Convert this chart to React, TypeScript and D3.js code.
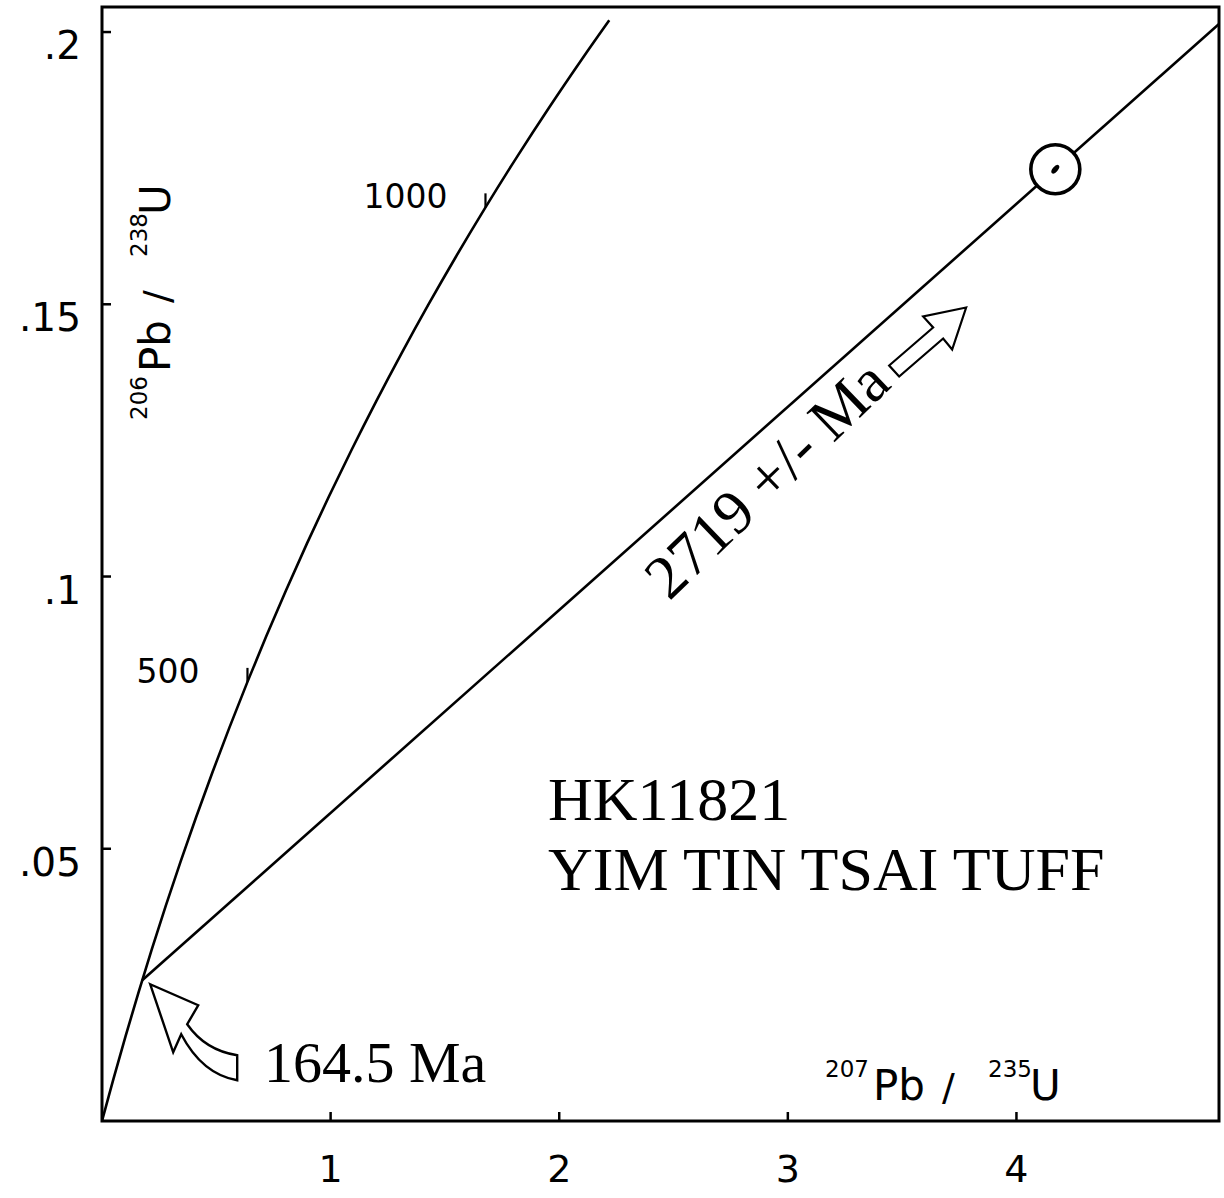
import React from 'react';
import * as d3 from 'd3';

// U-Pb decay constants (per year)
const LAMBDA_238 = 1.55125e-10;
const LAMBDA_235 = 9.8485e-10;

const xTickValues = [1, 2, 3, 4];
const xTickLabels = ['1', '2', '3', '4'];
const yTickValues = [0.05, 0.1, 0.15, 0.2];
const yTickLabels = ['.05', '.1', '.15', '.2'];

// Ages (Ma) along the concordia curve that is drawn
const concordiaAges = [0, 50, 100, 150, 200, 250, 300, 350, 400, 450, 500, 550, 600, 650, 700, 750, 800, 850, 900, 950, 1000, 1050, 1100, 1150, 1187];
const concordiaTickAges = [500, 1000];
const concordiaTickLabels = ['500', '1000'];

const lowerInterceptAge = 164.5;
const upperInterceptAge = 2719;

// analysed zircon fraction (207Pb/235U, 206Pb/238U)
const analysisX = [4.17];
const analysisY = [0.1748];

const sampleLines = ['HK11821', 'YIM TIN TSAI TUFF'];
const lowerLabel = '164.5 Ma';
const upperLabel = '2719 +/- Ma';

const r206 = (tMa: number) => Math.exp(LAMBDA_238 * tMa * 1e6) - 1;
const r207 = (tMa: number) => Math.exp(LAMBDA_235 * tMa * 1e6) - 1;

const SANS = '"DejaVu Sans", sans-serif';
const SERIF = '"Liberation Serif", "Times New Roman", serif';

export default function App() {
  const x = d3.scaleLinear().domain([0, 4.886]).range([102, 1219]);
  const y = d3.scaleLinear().domain([0, 0.2046]).range([1121, 7]);

  const line = d3
    .line<number>()
    .x((t) => x(r207(t)))
    .y((t) => y(r206(t)))
    .curve(d3.curveCatmullRom);

  const lx = r207(lowerInterceptAge);
  const ly = r206(lowerInterceptAge);
  const ux = r207(upperInterceptAge);
  const uy = r206(upperInterceptAge);
  const slope = (uy - ly) / (ux - lx);
  const disc = (v: number) => ly + slope * (v - lx);

  const [x0, x1] = x.range();
  const [y0, y1] = y.range();

  const lpx = x(lx);
  const lpy = y(ly);

  // straight arrow tip anchored below the discordia
  const arrowX = 3.78;
  const tipX = x(arrowX);
  const tipY = y(disc(arrowX)) + 59;
  const straightArrow = [
    [0, 0], [-43, 9], [-33, 20], [-77, 58], [-67, 69], [-23, 31], [-14, 42],
  ];
  const straightPath = 'M' + straightArrow.map((p) => `${tipX + p[0]},${tipY + p[1]}`).join('L') + 'Z';

  const cx = lpx + 8;
  const cy = lpy + 4;
  const curvedPath = `M${cx},${cy} L${cx + 48},${cy + 21} L${cx + 37},${cy + 40} Q${cx + 55},${cy + 66} ${cx + 87},${cy + 71} L${cx + 87},${cy + 96} Q${cx + 52},${cy + 90} ${cx + 31},${cy + 50} L${cx + 23},${cy + 68} Z`;

  const ax = x(analysisX[0]);
  const ay = y(analysisY[0]);

  const textAngle = -44;

  return (
    <svg width={1224} height={1198} style={{ position: 'absolute', left: 0, top: 0, background: '#fff' }}>
      <defs>
        <clipPath id="plot">
          <rect x={x0} y={y1} width={x1 - x0} height={y0 - y1} />
        </clipPath>
      </defs>
      <rect x={0} y={0} width={1224} height={1198} fill="#fff" />

      <g clipPath="url(#plot)" fill="none" stroke="#000" strokeWidth={2.6}>
        <path d={line(concordiaAges) || ''} />
        <line x1={lpx} y1={lpy} x2={x(ux)} y2={y(uy)} />
      </g>

      {concordiaTickAges.map((t, i) => (
        <g key={t}>
          <line x1={x(r207(t))} x2={x(r207(t))} y1={y(r206(t))} y2={y(r206(t)) - 14} stroke="#000" strokeWidth={2.2} />
          <text x={x(r207(t)) - (i === 0 ? 48 : 38)} y={y(r206(t)) + 1} textAnchor="end" fontFamily={SANS} fontSize={33}>
            {concordiaTickLabels[i]}
          </text>
        </g>
      ))}

      <circle cx={ax} cy={ay} r={24.5} fill="#fff" stroke="#000" strokeWidth={3.6} />
      <ellipse cx={ax} cy={ay} rx={2.6} ry={5.2} transform={`rotate(40 ${ax} ${ay})`} fill="#000" />

      <rect x={x0} y={y1} width={x1 - x0} height={y0 - y1} fill="none" stroke="#000" strokeWidth={3} />

      {xTickValues.map((v, i) => (
        <g key={v}>
          <line x1={x(v)} x2={x(v)} y1={y0} y2={y0 - 9} stroke="#000" strokeWidth={2.5} />
          <text x={x(v)} y={1182} textAnchor="middle" fontFamily={SANS} fontSize={38}>{xTickLabels[i]}</text>
        </g>
      ))}
      {yTickValues.map((v, i) => (
        <g key={v}>
          <line x1={x0} x2={x0 + 9} y1={y(v)} y2={y(v)} stroke="#000" strokeWidth={2.5} />
          <text x={81} y={y(v) + 27} textAnchor="end" fontFamily={SANS} fontSize={39}>{yTickLabels[i]}</text>
        </g>
      ))}

      <text fontFamily={SANS} fill="#000">
        <tspan x={825} y={1077} fontSize={23}>207</tspan>
        <tspan x={873} y={1100} fontSize={42}>Pb</tspan>
        <tspan x={942} y={1100} fontSize={38}>/</tspan>
        <tspan x={988} y={1077} fontSize={23}>235</tspan>
        <tspan x={1030} y={1100} fontSize={42}>U</tspan>
      </text>

      <g transform="translate(170,420) rotate(-90)">
        <text fontFamily={SANS} fill="#000">
          <tspan x={0} y={-23} fontSize={23}>206</tspan>
          <tspan x={48} y={0} fontSize={42}>Pb</tspan>
          <tspan x={117} y={0} fontSize={38}>/</tspan>
          <tspan x={163} y={-23} fontSize={23}>238</tspan>
          <tspan x={205} y={0} fontSize={42}>U</tspan>
        </text>
      </g>

      <text x={548} y={820} fontFamily={SERIF} fontSize={62}>{sampleLines[0]}</text>
      <text x={548} y={890} fontFamily={SERIF} fontSize={62}>{sampleLines[1]}</text>
      <text x={264} y={1082} fontFamily={SERIF} fontSize={58}>{lowerLabel}</text>
      <text
        transform={`translate(781,494) rotate(${textAngle})`}
        textAnchor="middle"
        fontFamily={SERIF}
        fontSize={62}
      >
        {upperLabel}
      </text>

      <path d={straightPath} fill="#fff" stroke="#000" strokeWidth={2.2} strokeLinejoin="miter" />
      <path d={curvedPath} fill="#fff" stroke="#000" strokeWidth={2.4} strokeLinejoin="miter" />
    </svg>
  );
}
